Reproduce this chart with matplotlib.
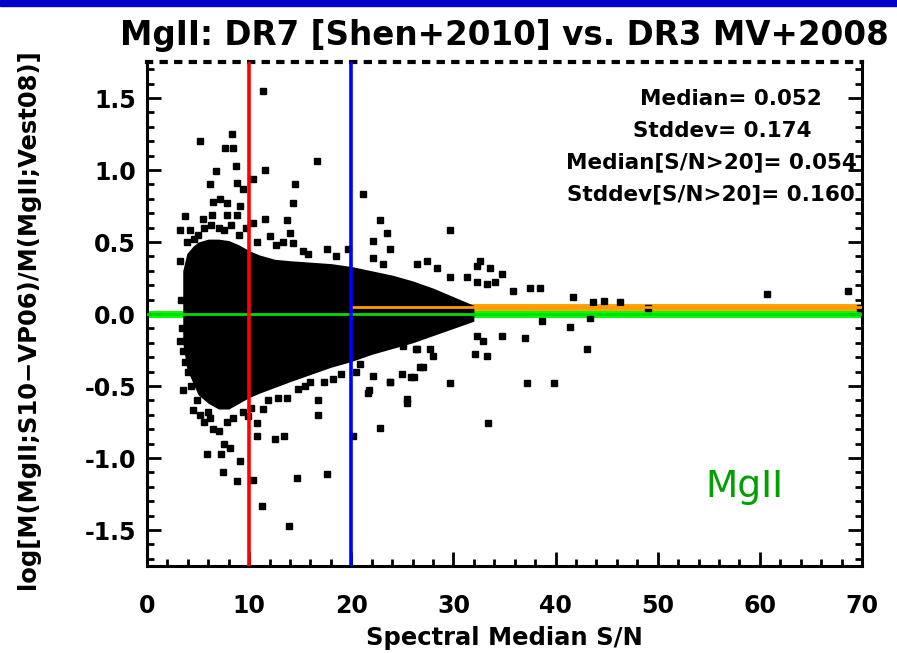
import numpy as np
import matplotlib
matplotlib.use("Agg")
import matplotlib.pyplot as plt
from matplotlib.patches import Rectangle
from matplotlib.ticker import MultipleLocator, FormatStrFormatter

# === DATA ===
# dense core of the cloud: envelope vs S/N
core_sn = [3.5, 3.9, 4.5, 5.0, 6.0, 7.0, 8.0, 9.0, 10.0, 11.0, 12.5, 14.0,
           16.0, 18.0, 20.0, 22.0, 24.0, 26.0, 28.0, 30.0, 32.0]
core_hi = [0.30, 0.42, 0.47, 0.50, 0.52, 0.52, 0.51, 0.48, 0.44, 0.41, 0.38, 0.37,
           0.36, 0.35, 0.33, 0.30, 0.27, 0.23, 0.18, 0.12, 0.06]
core_lo = [-0.20, -0.38, -0.48, -0.56, -0.62, -0.66, -0.66, -0.62, -0.58, -0.55, -0.51, -0.47,
           -0.42, -0.37, -0.33, -0.28, -0.24, -0.20, -0.15, -0.10, -0.05]

# individual points outside the core
pts_sn = [11.4, 5.2, 8.3, 7.6, 8.4, 8.7, 16.6, 11.6, 6.8, 6.2, 8.8, 9.4, 10.4, 14.5, 21.1,
          6.5, 7.1, 7.8, 9.1, 14.3, 6.4, 7.8, 8.8, 3.7, 11.6, 22.8, 3.2, 4.2, 10.4, 13.7,
          12.0, 14.3, 15.3, 17.6, 22.1, 23.5, 23.8, 3.2, 19.7, 29.7, 41.7, 60.7, 68.6, 32.6,
          33.6, 34.8, 35.8, 37.5, 38.5, 44.7, 46.3, 43.7, 49.0, 69.8, 22.1, 23.1, 26.4, 27.4,
          28.4, 32.3, 29.7, 31.3, 32.3, 33.3, 34.1,
          5.0, 5.6, 6.3, 7.0, 7.5, 8.2, 9.0, 9.7, 10.8, 12.6, 13.3, 14.0, 15.8, 18.5, 4.6,
          3.9, 5.5,
          32.3, 32.9, 34.8, 37.0, 38.7, 41.4, 43.4, 43.1, 37.2, 39.8, 32.1, 33.3, 29.7, 27.7,
          26.7, 25.0, 23.8, 22.1, 21.6, 20.9, 26.4, 25.1, 25.5,
          5.9, 7.4, 8.8, 10.4, 11.3, 13.9, 14.7, 17.6, 12.5, 13.4, 9.1, 8.1, 7.2, 7.5, 10.8,
          10.8, 9.9, 11.4, 16.7, 16.7, 20.2, 22.8, 25.5, 21.7, 17.3, 16.0, 23.8, 26.1, 26.3,
          6.5, 7.0, 6.2, 3.5, 4.5, 4.9, 3.2, 3.5, 33.4, 28.0, 27.0, 25.8,
          4.0, 4.3, 5.2, 5.6, 6.0, 7.8, 8.4, 9.4, 10.2, 11.8, 12.8, 13.7, 14.8, 15.5, 18.2,
          19.0, 20.5, 3.7, 3.4, 3.3]
pts_dm = [1.55, 1.20, 1.25, 1.15, 1.15, 1.03, 1.06, 1.00, 0.99, 0.90, 0.91, 0.87, 0.94, 0.90, 0.83,
          0.78, 0.80, 0.77, 0.75, 0.77, 0.69, 0.69, 0.69, 0.68, 0.66, 0.65, 0.58, 0.58, 0.63, 0.65,
          0.54, 0.49, 0.44, 0.45, 0.51, 0.56, 0.45, 0.37, 0.45, 0.58, 0.12, 0.14, 0.16, 0.37,
          0.32, 0.28, 0.16, 0.18, 0.18, 0.09, 0.08, 0.08, 0.04, 0.04, 0.39, 0.35, 0.35, 0.37,
          0.32, 0.33, 0.26, 0.26, 0.22, 0.21, 0.22,
          0.55, 0.60, 0.62, 0.60, 0.58, 0.62, 0.55, 0.60, 0.50, 0.48, 0.50, 0.56, 0.42, 0.40, 0.52,
          0.50, 0.66,
          -0.15, -0.19, -0.15, -0.17, -0.05, -0.09, -0.03, -0.24, -0.48, -0.48, -0.28, -0.29, -0.48, -0.24,
          -0.37, -0.42, -0.47, -0.43, -0.55, -0.35, -0.24, -0.22, -0.59,
          -0.97, -1.10, -1.16, -1.15, -1.33, -1.47, -1.14, -1.11, -0.87, -0.85, -1.02, -0.93, -0.97, -0.90, -0.85,
          -0.76, -0.71, -0.66, -0.60, -0.70, -0.85, -0.79, -0.62, -0.53, -0.47, -0.47, -0.47, -0.44, -0.24,
          -0.80, -0.81, -0.72, -0.53, -0.67, -0.60, -0.19, -0.26, -0.76, -0.29, -0.37, -0.44,
          -0.40, -0.50, -0.70, -0.75, -0.68, -0.75, -0.72, -0.68, -0.65, -0.60, -0.58, -0.58, -0.52, -0.50, -0.45,
          -0.42, -0.40, -0.33, -0.10, 0.10]

sn_cuts = [10, 20]
median_hi = 0.052
stats_lines = ["Median= 0.052", "Stddev= 0.174", "Median[S/N>20]= 0.054", "Stddev[S/N>20]= 0.160"]

# === PLOT ===
fig = plt.figure(figsize=(8.97, 6.53), dpi=100)
fig.patches.append(Rectangle((0, 1 - 6 / 653), 1, 6 / 653, transform=fig.transFigure,
                             color="#0000c8", zorder=0))
ax = fig.add_axes([147 / 897, 1 - 566 / 653, (862 - 147) / 897, (566 - 62) / 653])

# thick lines under the points, thin copies on top
ax.axhline(0, color="#00ff00", linewidth=5, zorder=1)
ax.hlines(median_hi, 20, 70, color="#ffa500", linewidth=5, zorder=1)

ax.fill_between(core_sn, core_lo, core_hi, color="black", linewidth=0, zorder=2)
ax.plot(pts_sn, pts_dm, "s", color="black", markersize=4, zorder=2)

ax.axhline(0, color="#00dd00", linewidth=2, zorder=3)
ax.hlines(median_hi, 20, 70, color="#ff9900", linewidth=2, zorder=3)
ax.axvline(sn_cuts[0], color="red", linewidth=2.6, zorder=4)
ax.axvline(sn_cuts[1], color="blue", linewidth=2.6, zorder=4)

ax.set_xlim(0, 70)
ax.set_ylim(-1.75, 1.75)
ax.xaxis.set_major_locator(MultipleLocator(10))
ax.xaxis.set_minor_locator(MultipleLocator(2))
ax.yaxis.set_major_locator(MultipleLocator(0.5))
ax.yaxis.set_minor_locator(MultipleLocator(0.1))
ax.yaxis.set_major_formatter(FormatStrFormatter("%.1f"))

ax.tick_params(which="both", direction="in", top=False, right=True, width=2)
ax.tick_params(which="major", length=10)
ax.tick_params(which="minor", length=5)
ax.tick_params(axis="x", pad=20)
ax.tick_params(axis="y", pad=8)
for lab in ax.get_xticklabels() + ax.get_yticklabels():
    lab.set_fontsize(17)
    lab.set_fontweight("bold")

for side in ["left", "right", "bottom"]:
    ax.spines[side].set_linewidth(2.2)
ax.spines["top"].set_linewidth(3)
ax.spines["top"].set_linestyle((0, (1, 2.5)))

ax.set_title("MgII: DR7 [Shen+2010] vs. DR3 MV+2008", fontsize=23.5, fontweight="bold", pad=12)
ax.set_xlabel("Spectral Median S/N", fontsize=17.5, fontweight="bold", labelpad=6)
ax.set_ylabel("log[M(MgII;S10\u2212VP06)/M(MgII;Vest08)]", fontsize=17.5, fontweight="bold")
ax.yaxis.set_label_coords(-0.15, 0.49)

stat_x = [66.1, 65.1, 69.5, 69.3]
stat_y = [1.49, 1.27, 1.05, 0.83]
for s, xx, yy in zip(stats_lines, stat_x, stat_y):
    ax.text(xx, yy, s, ha="right", va="center", fontsize=15.5, fontweight="bold", zorder=5)

ax.text(58.5, -1.2, "MgII", color="#00a000", fontsize=27, ha="center", va="center")

plt.savefig("out.png", dpi=100)
plt.close()
